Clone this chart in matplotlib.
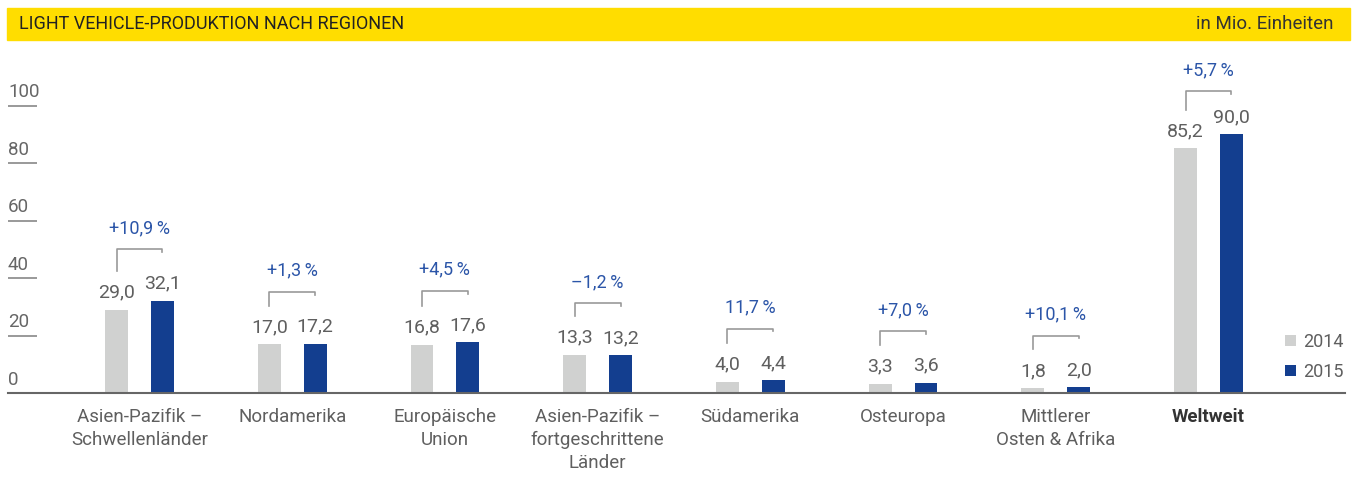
import matplotlib
matplotlib.use('Agg')
import matplotlib.pyplot as plt
from matplotlib.patches import Rectangle

plt.rcParams['font.family'] = ['Roboto', 'DejaVu Sans']

regions = ['Asien-Pazifik –\nSchwellenländer', 'Nordamerika', 'Europäische\nUnion',
           'Asien-Pazifik –\nfortgeschrittene\nLänder', 'Südamerika', 'Osteuropa',
           'Mittlerer\nOsten & Afrika', 'Weltweit']
prod_2014 = [29.0, 17.0, 16.8, 13.3, 4.0, 3.3, 1.8, 85.2]
prod_2015 = [32.1, 17.2, 17.6, 13.2, 4.4, 3.6, 2.0, 90.0]
changes = ['+10,9\u2009%', '+1,3\u2009%', '+4,5\u2009%', '–1,2\u2009%', '11,7\u2009%',
           '+7,0\u2009%', '+10,1\u2009%', '+5,7\u2009%']
yticks = [0, 20, 40, 60, 80, 100]
years = ['2014', '2015']

GRAY = '#d0d1d0'
BLUE = '#133e8f'
PCT = '#2b55a8'
TXT = '#5f5f5f'

W, H = 1353, 479
fig = plt.figure(figsize=(W / 100, H / 100), dpi=100)

# gelber Kopfbalken
fig.patches.append(Rectangle((7 / W, 1 - 40 / H), 1343 / W, 32 / H,
                             transform=fig.transFigure, color='#ffdd00', zorder=0))
fig.text(19 / W, 1 - 24 / H, 'LIGHT VEHICLE-PRODUKTION NACH REGIONEN',
         fontsize=13, color='#222222', va='center', ha='left')
fig.text(1334 / W, 1 - 24 / H, 'in Mio. Einheiten',
         fontsize=13.5, color='#333333', va='center', ha='right')

ax = fig.add_axes([8 / W, 86 / H, 1337 / W, 287.5 / H])
x0, x1 = -0.861, 7.894
ax.set_xlim(x0, x1)
ax.set_ylim(0, 100)
ax.axis('off')

bw = 0.15
xs = list(range(len(regions)))
ax.bar([x - bw for x in xs], prod_2014, width=bw, color=GRAY, label=years[0], clip_on=False)
ax.bar([x + bw for x in xs], prod_2015, width=bw, color=BLUE, label=years[1], clip_on=False)

ax.axhline(0, color='#666666', lw=1.5, clip_on=False)

# y-Achse: Zahlen mit kurzem Strich darunter
for t in yticks:
    if t > 0:
        ax.hlines(t, x0, x0 + 0.19, color='#888888', lw=1.2, clip_on=False)
    ax.annotate(str(t), (x0, t), xytext=(0, 6), textcoords='offset points',
                fontsize=13.5, color='#666666', ha='left', va='baseline',
                annotation_clip=False)

for i, x in enumerate(xs):
    a, b = prod_2014[i], prod_2015[i]
    for xx, v in ((x - bw, a), (x + bw, b)):
        ax.annotate(f'{v:.1f}'.replace('.', ','), (xx, v), xytext=(0, 12.2),
                    textcoords='offset points', ha='center', va='center',
                    fontsize=14, color=TXT, annotation_clip=False)
    top = min(max(a, b) + 18, 105)
    ax.plot([x - bw, x - bw, x + bw, x + bw], [a + 13.4, top, top, max(b + 13.4, top - 1)],
            color='#999999', lw=1.2, clip_on=False)
    ax.text(x, top + 7.3, changes[i], ha='center', va='center', fontsize=13,
            color=PCT, clip_on=False)
    bold = regions[i] == 'Weltweit'
    ax.annotate(regions[i], (x, 0), xytext=(0, -11), textcoords='offset points',
                ha='center', va='top', fontsize=13.5, linespacing=1.33,
                color='#333333' if bold else TXT,
                fontweight='bold' if bold else 'normal', annotation_clip=False)

ax.legend(loc='upper left', bbox_to_anchor=(1276 / W, 1 - 324 / H),
          bbox_transform=fig.transFigure, frameon=False, fontsize=13,
          handlelength=0.6, handleheight=0.6, handletextpad=0.4,
          labelspacing=0.65, borderpad=0, labelcolor=TXT)

fig.savefig('out.png', dpi=100)
